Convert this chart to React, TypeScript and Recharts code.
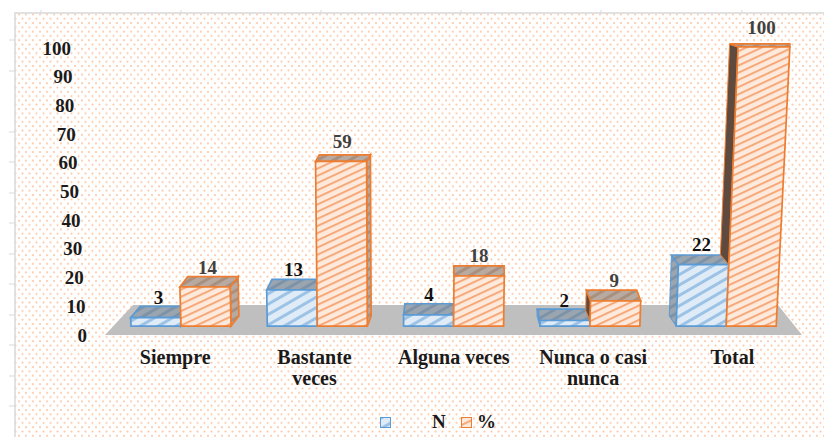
import React from 'react';
import { BarChart, Bar, XAxis, YAxis, Legend, LabelList } from 'recharts';

const categories = ['Siempre', 'Bastante\nveces', 'Alguna veces', 'Nunca o casi\nnunca', 'Total'];
const countValues = [3, 13, 4, 2, 22];
const percentValues = [14, 59, 18, 9, 100];
const yTicks = [0, 10, 20, 30, 40, 50, 60, 70, 80, 90, 100];

const chartData = categories.map((name, i) => ({ name, N: countValues[i], pct: percentValues[i] }));

const FONT = '"Liberation Serif", serif';
const BLUE = '#5b9bd5';
const ORANGE = '#ed7d31';

// 3D look: bars lean and show their side towards a vanishing point
const VANISH_X = 470;
const depthShift = (cx: number) => (VANISH_X - cx) * 0.03;
const depthOf = (h: number) => 11.5 - h * 0.03;
const lean = (x: number, h: number) => (x - 400) * h * 0.00013;
const tickFrameY = [40, 71, 132, 162, 193, 223, 254, 284, 315, 345, 376, 406];
const tickFrameX = [41, 181, 321, 461, 601, 742];

function Bar3D(props: any) {
  const { x, y, width, height, dataKey, payload, value } = props;
  const isN = dataKey === 'N';
  const main = isN ? BLUE : ORANGE;
  const base = y + height;
  const dx = depthShift(x + width / 2);
  // tall bars on the right keep their back corner over the front one
  const dxRight = dx < 0 ? dx * (1 - height / 279) : dx;
  const depth = depthOf(height);
  const xl = x + lean(x, height);
  const xr = x + width + lean(x + width, height);
  const front = `${x},${base} ${x + width},${base} ${xr},${y} ${xl},${y}`;
  const top = `${xl},${y} ${xr},${y} ${xr + dxRight},${y - depth} ${xl + dx},${y - depth}`;
  const topFill = isN ? 'url(#topBlue)' : 'url(#topOrange)';

  let side = null;
  if (dx > 1) {
    side = (
      <polygon
        points={`${x + width},${base} ${xr},${y} ${xr + dx},${y - depth} ${x + width + dx},${base - 10}`}
        fill={topFill}
        stroke={main}
        strokeWidth={1.7}
      />
    );
  } else if (dx < -1) {
    // the orange left side only shows above the blue bar next to it
    const hidden = isN ? 0 : (payload.N * height) / value;
    const by = base - hidden;
    const bx = x + lean(x, hidden);
    const sideFill = isN ? 'url(#topBlue)' : '#5e4a3e';
    side = (
      <polygon
        points={`${bx},${by} ${xl},${y} ${xl + dx},${y - depth} ${bx + dx},${by - 10}`}
        fill={sideFill}
        stroke={main}
        strokeWidth={1}
      />
    );
  }

  return (
    <g>
      {side}
      <polygon points={top} fill={topFill} stroke={main} strokeWidth={1.7} />
      <polygon points={front} fill={isN ? 'url(#hatchBlue)' : 'url(#hatchOrange)'} stroke={main} strokeWidth={1.7} />
    </g>
  );
}

function BarValue(props: any) {
  const { x, y, width, height, value, color } = props;
  const h = Number(height);
  return (
    <text
      x={x + width / 2 + lean(x + width / 2, h) + depthShift(x + width / 2) * 0.3}
      y={y - 20}
      textAnchor="middle"
      dominantBaseline="central"
      fontFamily={FONT}
      fontWeight="bold"
      fontSize={19}
      fill={color}
    >
      {value}
    </text>
  );
}

function ValueTick(props: any) {
  const { y, payload } = props;
  return (
    <text
      x={87 - 0.16 * payload.value}
      y={y}
      textAnchor="end"
      dominantBaseline="central"
      fontFamily={FONT}
      fontWeight="bold"
      fontSize={19}
      fill="#1a1a1a"
    >
      {payload.value}
    </text>
  );
}

function CategoryTick(props: any) {
  const { x, y, payload } = props;
  const lines = String(payload.value).split('\n');
  const cx = x + (x - 450) * 0.022;
  return (
    <text textAnchor="middle" fontFamily={FONT} fontWeight="bold" fontSize={20} fill="#1a1a1a">
      {lines.map((line, i) => (
        <tspan key={line} x={cx} y={y + 14 + i * 21} dominantBaseline="central">
          {line}
        </tspan>
      ))}
    </text>
  );
}

function LegendContent() {
  const label: React.CSSProperties = { fontFamily: FONT, fontWeight: 'bold', fontSize: 19, color: '#1a1a1a' };
  const swatch = (fill: string, stroke: string) => (
    <svg width={11} height={11} style={{ display: 'block' }}>
      <rect x={0.5} y={0.5} width={10} height={10} fill={fill} stroke={stroke} />
    </svg>
  );
  return (
    <div style={{ position: 'relative', width: 130, height: 24 }}>
      <div style={{ position: 'absolute', left: 0, top: 6 }}>{swatch('url(#hatchBlue)', BLUE)}</div>
      <div style={{ position: 'absolute', left: 52, top: 0, ...label }}>N</div>
      <div style={{ position: 'absolute', left: 81, top: 6 }}>{swatch('url(#hatchOrange)', ORANGE)}</div>
      <div style={{ position: 'absolute', left: 97, top: 0, ...label }}>%</div>
    </div>
  );
}

export default function App() {
  return (
    <div style={{ position: 'absolute', left: 0, top: 0, width: 824, height: 437, background: '#fff', overflow: 'hidden' }}>
      {/* Frame, dotted background and floor sit behind the chart */}
      <svg width={824} height={437} style={{ position: 'absolute', left: 0, top: 0 }}>
        <defs>
          <pattern id="dots" width={7} height={8.6} patternUnits="userSpaceOnUse">
            <circle cx={1.5} cy={1.5} r={1.1} fill="#fcc9a8" />
            <circle cx={5} cy={5.8} r={1.1} fill="#fcc9a8" />
          </pattern>
          <pattern id="hatchBlue" width={9} height={9} patternUnits="userSpaceOnUse" patternTransform="rotate(-30)">
            <rect width={9} height={9} fill="#dfebf7" />
            <rect width={9} height={3} fill="#9cc3e6" />
          </pattern>
          <pattern id="hatchOrange" width={6.5} height={6.5} patternUnits="userSpaceOnUse" patternTransform="rotate(-25)">
            <rect width={6.5} height={6.5} fill="#fdeadd" />
            <rect width={6.5} height={2} fill="#f6a878" />
          </pattern>
          <pattern id="topBlue" width={8} height={8} patternUnits="userSpaceOnUse" patternTransform="rotate(-30)">
            <rect width={8} height={8} fill="#9aa5b0" />
            <rect width={8} height={3} fill="#7e93a8" />
          </pattern>
          <pattern id="topOrange" width={8} height={8} patternUnits="userSpaceOnUse" patternTransform="rotate(-30)">
            <rect width={8} height={8} fill="#b8aaa0" />
            <rect width={8} height={3} fill="#a88f7e" />
          </pattern>
        </defs>
        <rect x={15} y={13} width={809} height={424} fill="url(#dots)" />
        <path d="M15 437V13H824" fill="none" stroke="#d9d9d9" strokeWidth={1.5} />
        {tickFrameY.map((t) => (
          <line key={t} x1={9} x2={15} y1={t} y2={t} stroke="#d9d9d9" />
        ))}
        {tickFrameX.map((t) => (
          <line key={t} x1={t} x2={t} y1={10} y2={13} stroke="#d9d9d9" />
        ))}
        <polygon points="105,335 133,305 778,305 802,335" fill="#bfbfbf" />
      </svg>
      <div style={{ position: 'absolute', left: 0, top: 0 }}>
        <BarChart
          width={824}
          height={437}
          data={chartData}
          margin={{ top: 47, right: 29.5, bottom: 0, left: 0 }}
          barSize={50}
          barGap={0}
        >
          <XAxis dataKey="name" height={78} axisLine={false} tickLine={false} interval={0} tick={CategoryTick} />
          <YAxis yAxisId="labels" width={113} domain={[0, 100.35]} allowDataOverflow ticks={yTicks} axisLine={false} tickLine={false} tick={ValueTick} />
          <YAxis yAxisId="bars" hide domain={[-3.2, 100]} />
          <Legend content={LegendContent} wrapperStyle={{ left: 380, top: 411, width: 130, bottom: 'auto' }} />
          <Bar yAxisId="bars" dataKey="N" name="N" fill={BLUE} shape={Bar3D} isAnimationActive={false}>
            <LabelList dataKey="N" content={(p: any) => <BarValue {...p} color="#111111" />} />
          </Bar>
          <Bar yAxisId="bars" dataKey="pct" name="%" fill={ORANGE} shape={Bar3D} isAnimationActive={false}>
            <LabelList dataKey="pct" content={(p: any) => <BarValue {...p} color="#404040" />} />
          </Bar>
        </BarChart>
      </div>
    </div>
  );
}
